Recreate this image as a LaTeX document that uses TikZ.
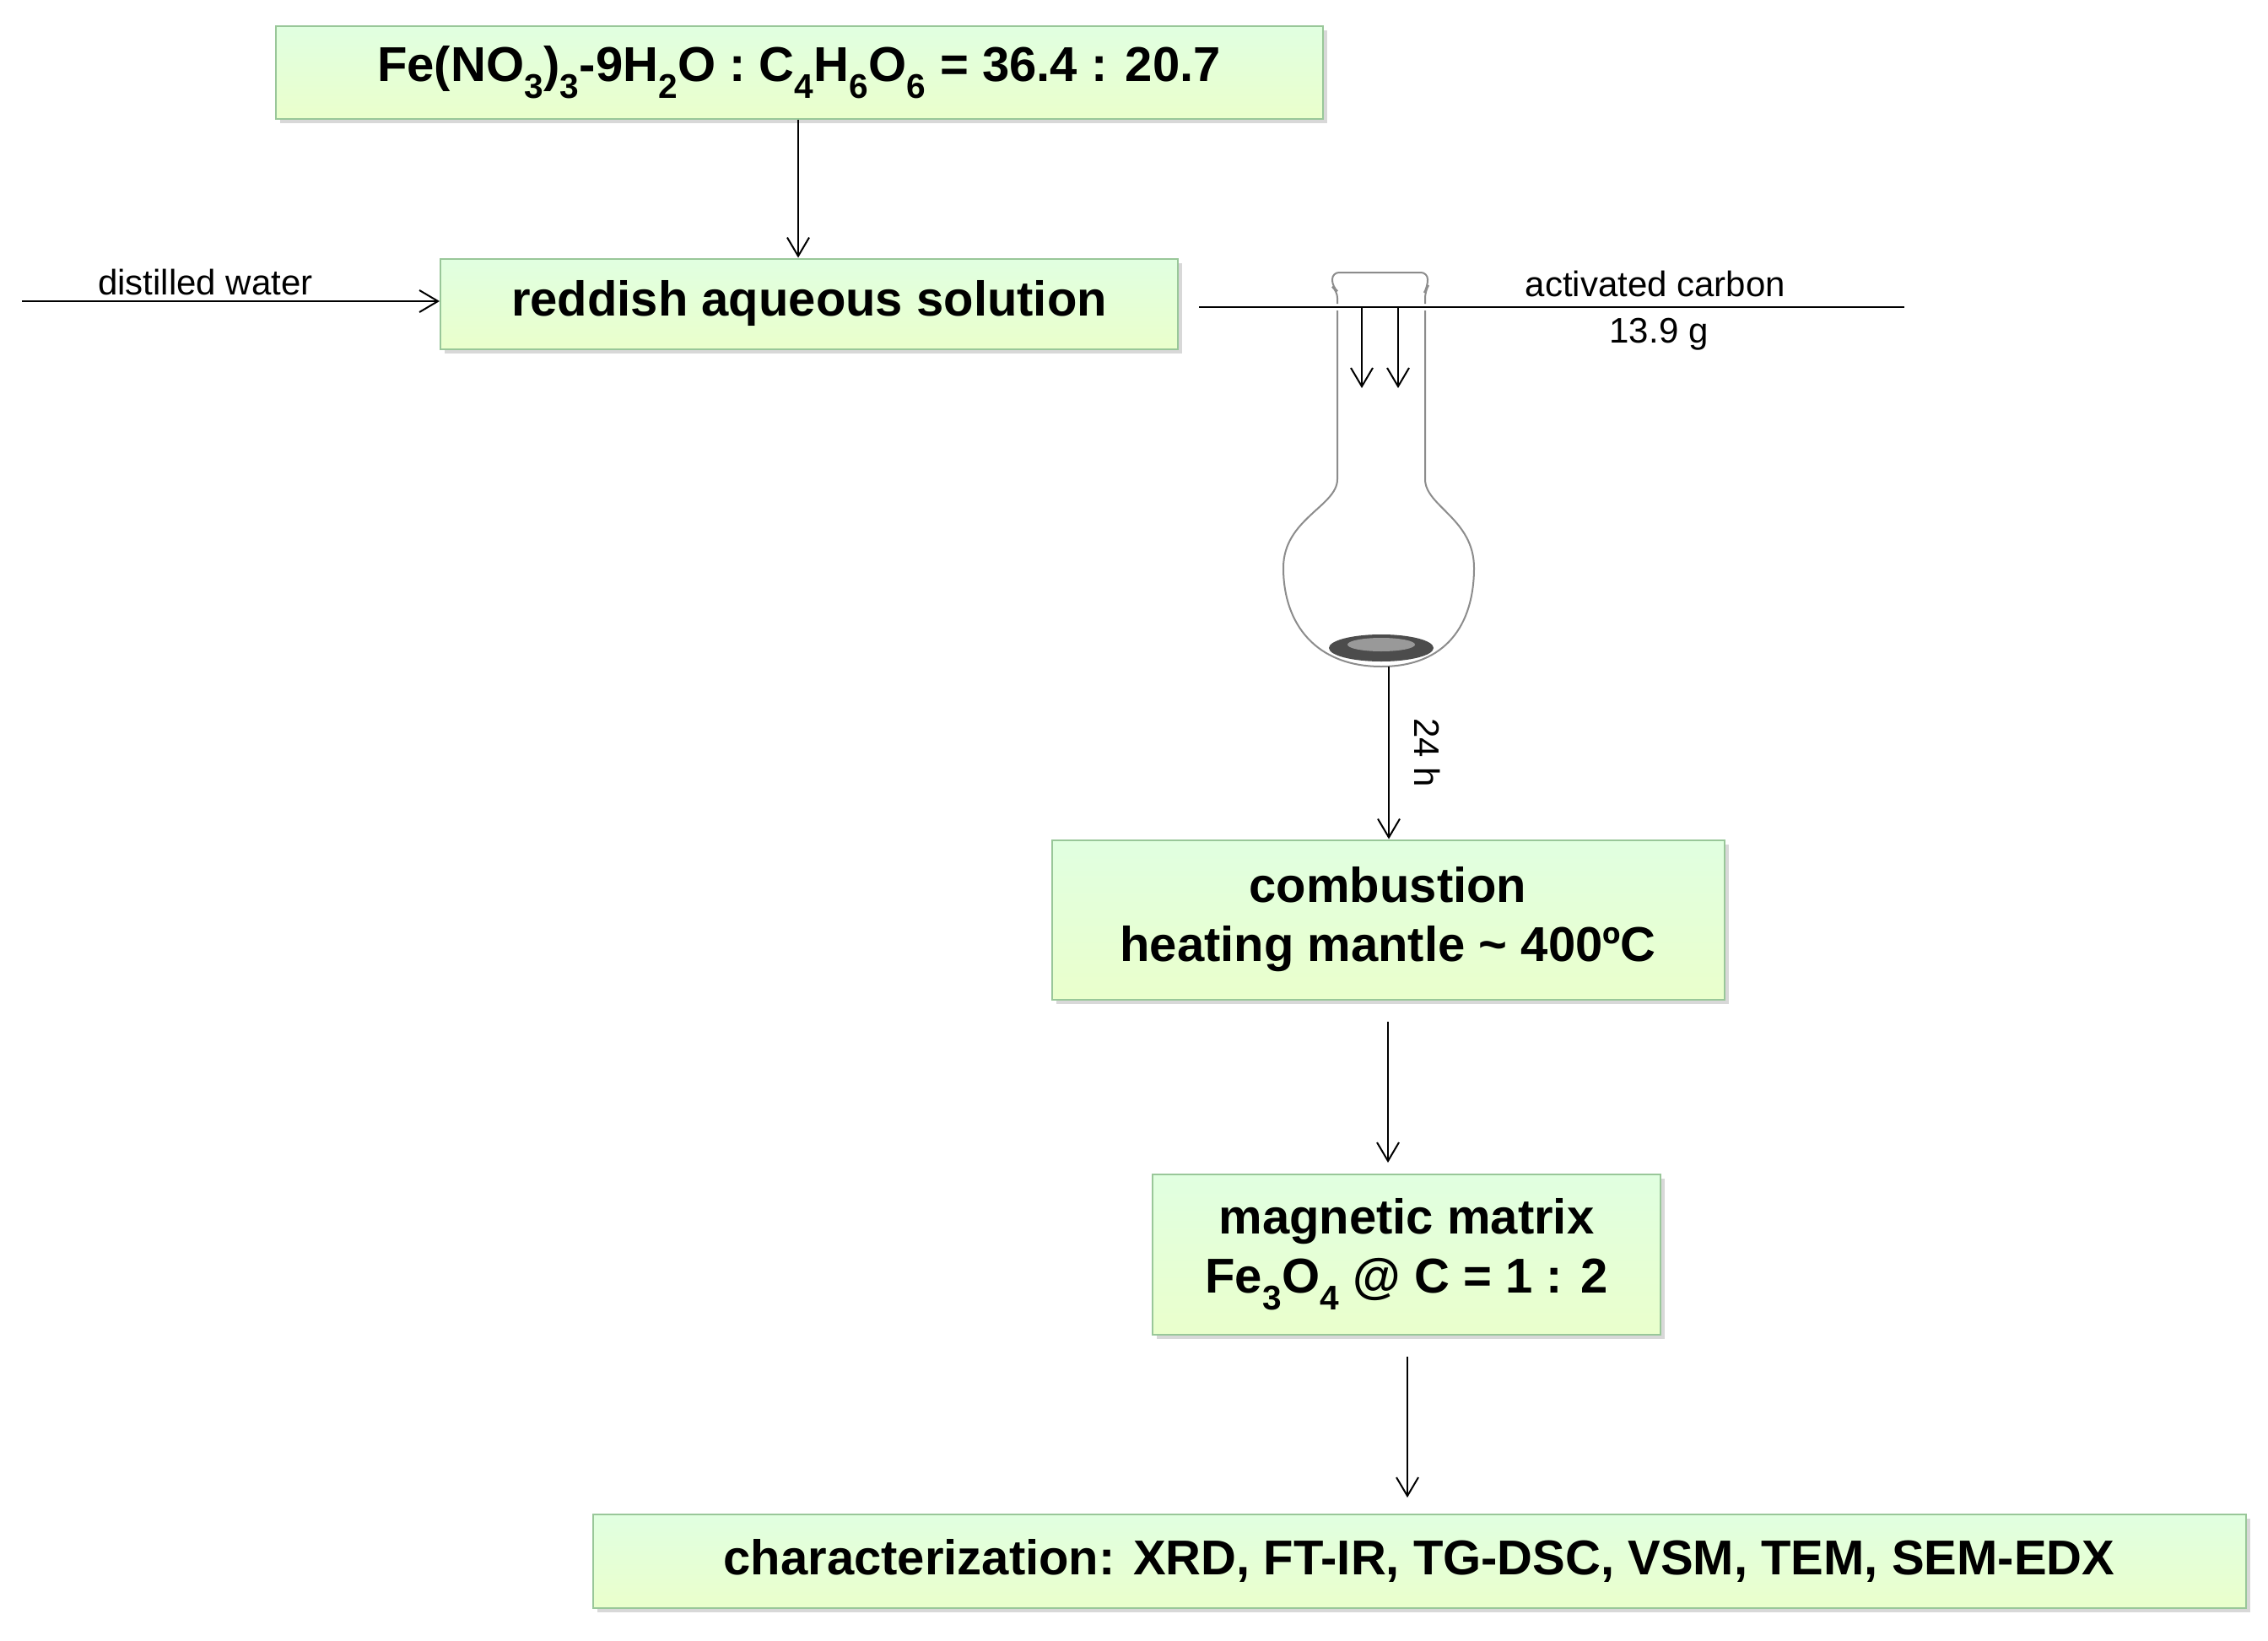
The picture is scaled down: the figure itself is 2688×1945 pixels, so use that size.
\documentclass[tikz,border=0pt]{standalone}
\usepackage{fontspec}
\setmainfont{Liberation Sans}
\usetikzlibrary{arrows.meta,shadows}
\begin{document}
\begin{tikzpicture}[x=1pt,y=-1pt,
  box/.style={draw=green!45!black!40,line width=2pt,top color=green!12!white,bottom color=green!22!lime!20!white,
    drop shadow={shadow xshift=5pt,shadow yshift=-5pt,fill=black!30},
    font=\fontsize{58}{70}\selectfont\bfseries,align=center,inner sep=0pt},
  arr/.style={line width=2pt,-{Straight Barb[length=22pt,width=26pt,line width=2pt]}},
  lbl/.style={font=\fontsize{42}{50}\selectfont,inner sep=0pt}]
\useasboundingbox[fill=white] (0,0) rectangle (2688,1945);
\node[box,minimum width=1241pt,minimum height=110pt] (b1) at (947,86)
  {Fe(NO\textsubscript{3})\textsubscript{3}-9H\textsubscript{2}O : C\textsubscript{4}H\textsubscript{6}O\textsubscript{6} = 36.4 : 20.7};
\node[box,minimum width=874pt,minimum height=107pt] (b2) at (959,360) {reddish aqueous solution};
\node[box,minimum width=797pt,minimum height=189pt] (b3) at (1645,1090) {combustion\\heating mantle \textasciitilde{} 400ºC};
\node[box,minimum width=602pt,minimum height=190pt] (b4) at (1667,1487) {magnetic matrix\\Fe\textsubscript{3}O\textsubscript{4} @ C = 1 : 2};
\node[box,minimum width=1959pt,minimum height=111pt] (b5) at (1682,1850) {characterization: XRD, FT-IR, TG-DSC, VSM, TEM, SEM-EDX};
\coordinate (w0) at (26,357);
\draw[arr] (w0) -- (b2.west |- w0) node[lbl,midway,above=6pt,xshift=-30pt] {distilled water};
\draw[arr] (b1.south -| 946,0) -- (b2.north -| 946,0);
% flask
\coordinate (c0) at (1421,364);
\coordinate (c1) at (2257,364);
\draw[line width=2pt] (c0) -- (c1);
\node[lbl] (ac) at (1962,336) {activated carbon};
\node[lbl] (mass) at (1966,396) {13.9 g};
\draw[black!45,line width=2pt,fill=white,rounded corners=8pt] (1585,360) -- (1585,345) -- (1579,340) -- (1579,323) -- (1692,323) -- (1692,340) -- (1689,345) -- (1689,360);
\draw[black!45,line width=2pt] (1585,368) -- (1585,568) .. controls (1585,600) and (1521,615) .. (1521,673)
  .. controls (1521,740) and (1560,790) .. (1637,790) .. controls (1714,790) and (1747,740) .. (1747,673)
  .. controls (1747,615) and (1689,600) .. (1689,568) -- (1689,368);
\fill[black!70] (1637,768) ellipse (62pt and 16pt);
\fill[black!40] (1637,764) ellipse (40pt and 8pt);
\coordinate (a1) at (1614,364); \coordinate (a1e) at (1614,460);
\coordinate (a2) at (1657,364); \coordinate (a2e) at (1657,460);
\draw[arr] (a1) -- (a1e);
\draw[arr] (a2) -- (a2e);
\coordinate (fb) at (1646,790);
\draw[arr] (fb) -- (b3.north -| fb) node[lbl,midway,rotate=-90,xshift=0pt,yshift=46pt] {24 h};
\coordinate (s3) at (1645,1211);
\draw[arr] (s3) -- (1645,1378);
\coordinate (s4) at (1668,1608);
\draw[arr] (s4) -- (1668,1775);
\end{tikzpicture}
\end{document}
